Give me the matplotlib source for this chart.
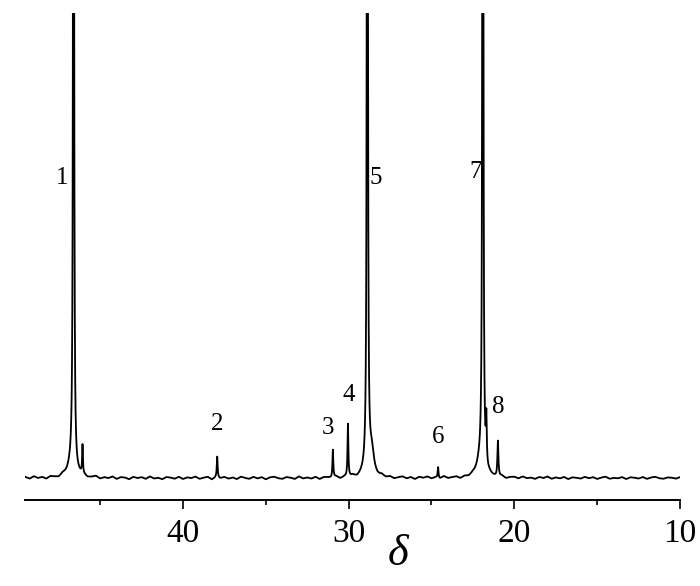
import numpy as np
import matplotlib
matplotlib.use("Agg")
import matplotlib.pyplot as plt

# --- data (chemical shift in ppm, intensity in arbitrary units, baseline = 0) ---
peak_shift = [46.60, 46.06, 37.93, 30.95, 30.04, 28.87, 28.60, 24.60, 21.90, 22.10, 21.69, 20.99]
peak_height = [2000, 28, 21, 28, 53, 2000, 20, 11, 2000, 14, 45, 36]
peak_width = [0.022, 0.025, 0.030, 0.030, 0.030, 0.022, 0.150, 0.030, 0.022, 0.250, 0.030, 0.035]
broad_shift = [46.75, 28.80]
broad_height = [10, 10]
broad_width = [0.30, 0.25]

noise_level = [0.8, -0.9, 1.5, -0.4, 0.6, -1.3, 1.1, 0.2, -0.8, 1.6,
               -0.3, 0.9, -1.5, 0.5, 1.2, -0.7, 0.1, 1.4, -1.1, 0.4,
               -0.5, 1.3, -1.2, 0.7, 0.3, -1.4, 1.0, -0.2, 0.8, -1.0,
               1.5, -0.6, 0.2, -1.3, 0.9, 0.4, -0.8, 1.2, -1.1, 0.6,
               -0.2, 1.4, -0.9, 0.3, 1.1, -1.5, 0.7, -0.4, 1.0, -0.7,
               0.5, -1.2, 1.3, 0.0, -0.9, 1.1, -0.5, 0.8, -1.4, 0.6,
               1.2, -0.3, -1.0, 0.9, 0.2, -1.1, 1.5, -0.6, 0.4, -0.8,
               1.0, -1.3, 0.7, 0.3, -0.5, 1.2, -1.0, 0.6, -0.2, 1.4,
               -0.9, 0.5, 1.0, -1.2, 0.3, -0.6, 1.3, -0.4, 0.8, -1.1,
               0.2, 1.1, -0.8, 0.6, -1.4, 0.9, -0.1, 1.2, -0.7, 0.4,
               -1.0, 1.5, -0.5, 0.3, 0.9, -1.2, 0.7, -0.3, 1.1, -0.9,
               0.5, -1.3, 1.0, 0.1, -0.6, 1.3, -1.0, 0.4, 0.8, -0.8,
               1.2, -0.4, 0.2, -1.1, 0.9, -0.2, 1.4, -0.9, 0.5, -0.5,
               1.0, -1.2, 0.6, 0.2, -0.7, 1.1, -0.3, 0.8, -1.0, 0.4,
               1.3, -0.8, 0.1, -0.4, 0.9, -1.1, 0.7, 0.3, -0.6, 1.0,
               -0.9, 0.5, 1.2, -0.3, -0.8, 0.6, 0.3, -0.7, 0.9]
noise_shift = [49.5 - 0.25 * i for i in range(len(noise_level))]

labels = ["1", "2", "3", "4", "5", "6", "7", "8"]
label_x = [47.30, 37.93, 31.27, 30.00, 28.38, 24.62, 22.33, 20.94]
label_y = [300, 54, 50, 83, 300, 41, 306, 71]

xticks_major = [40, 30, 20, 10]
xticks_minor = [45, 35, 25, 15]

# --- spectrum ---
x = np.arange(49.5, 9.99, -0.005)
y = np.interp(x, noise_shift[::-1], noise_level[::-1])
for c, h, g in zip(peak_shift + broad_shift, peak_height + broad_height, peak_width + broad_width):
    y = y + h * g**2 / (g**2 + (x - c)**2)

fig = plt.figure(figsize=(7.0, 5.86), dpi=100)
ax = fig.add_axes([25/700, 86/586, 655/700, 487/586])
ax.plot(x, y, color="black", lw=1.3)
ax.set_xlim(49.53, 10.0)
ax.set_ylim(-22, 465)

for s in ["left", "right", "top"]:
    ax.spines[s].set_visible(False)
ax.spines["bottom"].set_linewidth(1.4)
ax.set_yticks([])
ax.set_xticks(xticks_major)
ax.set_xticks(xticks_minor, minor=True)
ax.tick_params(axis="x", which="major", direction="out", length=6.5, width=1.2, pad=7)
ax.tick_params(axis="x", which="minor", direction="out", length=3.8, width=1.2)
for t in ax.get_xticklabels():
    t.set_fontfamily("Liberation Serif")
    t.set_fontsize(24)

ax.set_xlabel("δ", fontsize=32, family="Liberation Serif", style="italic")
ax.xaxis.set_label_coords((398 - 25) / 655, -0.07)

for t, lx, ly in zip(labels, label_x, label_y):
    ax.text(lx, ly, t, ha="center", va="center", fontsize=18, family="Liberation Serif")

fig.savefig("out.png", dpi=100)
